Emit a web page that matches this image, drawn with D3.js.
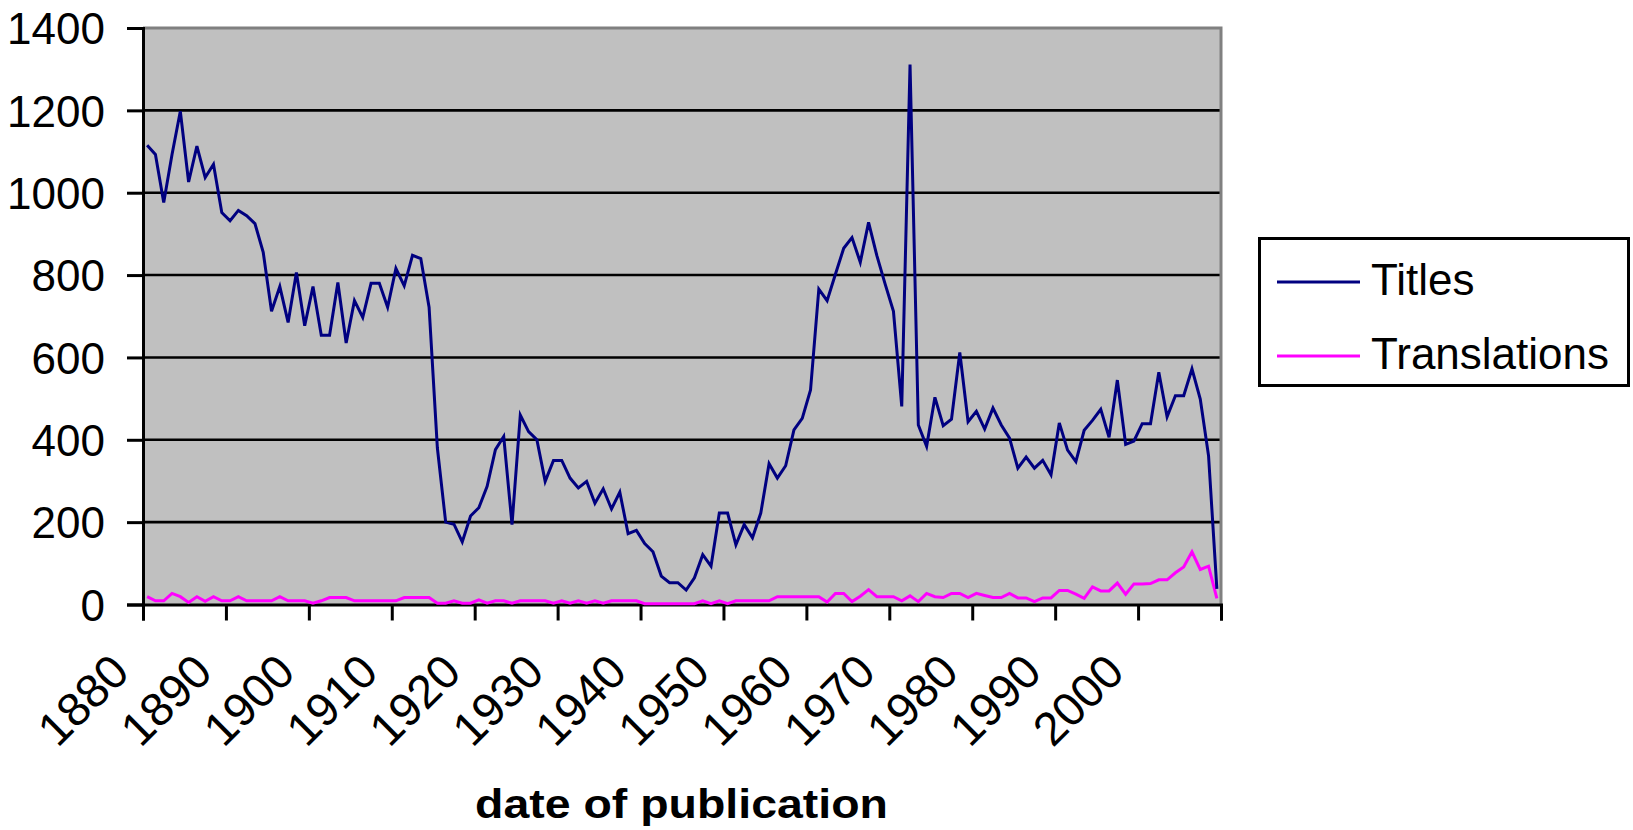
<!DOCTYPE html>
<html><head><meta charset="utf-8">
<script src="https://cdn.jsdelivr.net/npm/d3@7"></script>
<style>
body{margin:0;background:#fff;}
svg{display:block;}
text{font-family:"Liberation Sans",Arial,Helvetica,sans-serif;fill:#000;}
</style>
</head><body>
<svg id="chart" width="1633" height="830"></svg>
<script>
// ---- data ----
const firstYear = 1880, lastYear = 2009;
const years = d3.range(firstYear, lastYear + 1);
const titles = [
  1115,1093,976,1093,1198,1026,1113,1037,1069,952,
  932,957,944,925,855,712,772,685,806,677,
  772,654,654,782,635,738,697,780,780,722,
  816,774,848,840,722,380,200,195,152,215,
  235,287,376,408,194,460,420,400,299,350,
  350,307,283,299,246,281,232,273,172,180,
  148,128,69,53,53,35,65,121,93,222,
  222,145,194,162,222,342,307,337,424,452,
  521,766,738,802,865,891,831,928,847,778,
  712,481,1311,436,384,503,434,450,612,444,
  469,426,477,436,404,331,358,331,350,315,
  441,375,347,423,447,474,406,545,389,397,
  439,439,564,456,507,507,572,499,361,38
];
const translations = [
  19,9,9,27,19,5,19,8,19,9,
  9,19,9,9,9,9,19,9,9,9,
  3,9,17,17,17,9,9,9,9,9,
  9,17,17,17,17,3,3,9,3,3,
  11,3,9,9,3,9,9,9,9,3,
  9,3,9,3,9,3,9,9,9,9,
  2,2,2,2,2,2,2,9,2,9,
  2,9,9,9,9,9,19,19,19,19,
  19,19,6,27,27,7,20,36,19,19,
  19,9,21,7,27,19,17,27,27,17,
  27,22,17,17,27,16,16,7,16,16,
  34,34,25,15,43,33,33,52,25,50,
  50,51,60,60,77,91,128,85,93,15
];
const seriesNames = ["Titles", "Translations"];
const seriesColors = ["#000080", "#FF00FF"];
const yTicks = [0,200,400,600,800,1000,1200,1400];
const xTickLabels = ["1880","1890","1900","1910","1920","1930","1940","1950","1960","1970","1980","1990","2000"];
const xTitle = "date of publication";

// ---- layout ----
const L = 143, R = 1221, T = 28, B = 604.5;
const svg = d3.select("#chart");
svg.append("rect").attr("width",1633).attr("height",830).attr("fill","#fff");

const x = d3.scalePoint().domain(years).range([L, R]).padding(0.5);
const xb = d3.scaleLinear().domain([0, years.length]).range([L, R]); // category boundaries
const y = d3.scaleLinear().domain([0, 1400]).range([B, T]);

// plot background
svg.append("rect").attr("x", L).attr("y", T).attr("width", R - L).attr("height", B - T).attr("fill", "#C0C0C0");

// gridlines
svg.append("g").selectAll("line").data(yTicks.filter(d => d > 0 && d < 1400)).join("line")
  .attr("x1", L).attr("x2", R).attr("y1", d => y(d)).attr("y2", d => y(d))
  .attr("stroke", "#000").attr("stroke-width", 2.6);

// top and right border (gray)
svg.append("path").attr("d", `M${L},${y(1400)}H${R}V${B}`).attr("fill","none")
  .attr("stroke", "#808080").attr("stroke-width", 3);

// y axis
const yAxis = svg.append("g").attr("transform", `translate(${L},0)`)
  .call(d3.axisLeft(y).tickValues(yTicks).tickSize(16).tickPadding(22).tickFormat(d3.format("d")));
yAxis.select(".domain").attr("stroke", "#000").attr("stroke-width", 3);
yAxis.selectAll(".tick line").attr("stroke", "#000").attr("stroke-width", 3);
yAxis.selectAll(".tick text").attr("font-size", 44).attr("dy", "0.36em")
  .style("font-family", '"Liberation Sans",Arial,sans-serif');

// x axis (tick marks at category boundaries)
const xTickIdx = d3.range(0, years.length + 1, 10);
const xAxis = svg.append("g").attr("transform", `translate(0,${B})`)
  .call(d3.axisBottom(xb).tickValues(xTickIdx).tickSize(16).tickFormat(""));
xAxis.select(".domain").attr("stroke", "#000").attr("stroke-width", 3);
xAxis.selectAll(".tick line").attr("stroke", "#000").attr("stroke-width", 3);

// rotated x labels
svg.append("g").selectAll("text").data(xTickLabels).join("text")
  .attr("transform", (d, i) => `translate(${xb(i * 10) - 11.5},${B + 70}) rotate(-45)`)
  .attr("text-anchor", "end").attr("font-size", 47).text(d => d);

// series lines
const series = [titles, translations];
const line = d3.line().x((d, i) => x(years[i])).y(d => y(d));
series.slice().reverse().forEach((s, k) => {
  const idx = series.length - 1 - k;
  svg.append("path").datum(s).attr("d", line).attr("fill", "none")
    .attr("stroke", seriesColors[idx]).attr("stroke-width", 3).attr("stroke-linejoin", "miter");
});

// x axis title
svg.append("text").attr("x", 681.5).attr("y", 818).attr("text-anchor", "middle")
  .attr("font-size", 40).attr("font-weight", "bold")
  .attr("textLength", 413).attr("lengthAdjust", "spacingAndGlyphs").text(xTitle);

// legend
const lg = svg.append("g");
lg.append("rect").attr("x", 1259.5).attr("y", 238.5).attr("width", 369).attr("height", 147)
  .attr("fill", "#fff").attr("stroke", "#000").attr("stroke-width", 3);
const legendY = [282, 356];
seriesNames.forEach((name, i) => {
  lg.append("line").attr("x1", 1277).attr("x2", 1360).attr("y1", legendY[i]).attr("y2", legendY[i])
    .attr("stroke", seriesColors[i]).attr("stroke-width", 3);
  lg.append("text").attr("x", 1371).attr("y", legendY[i] + 13).attr("font-size", 44).text(name);
});
</script>
</body></html>
